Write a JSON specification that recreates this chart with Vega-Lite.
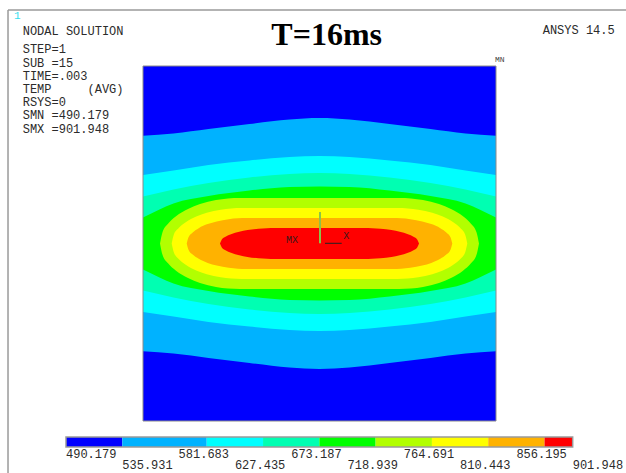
{
  "$schema": "https://vega.github.io/schema/vega-lite/v6.json",
  "width": 353,
  "height": 355,
  "autosize": {"type": "none"},
  "padding": {"left": 143, "top": 66, "right": 130, "bottom": 52},
  "background": "white",
  "config": {"view": {"stroke": null}, "axis": {"disable": true}},
  "datasets": {
    "contours": [
      {"level": 535.931, "x": -50, "upper": 30.37, "lower": -30.37},
      {"level": 535.931, "x": -41.36, "upper": 30.99, "lower": -30.99},
      {"level": 535.931, "x": -31.44, "upper": 32.25, "lower": -32.25},
      {"level": 535.931, "x": -19.83, "upper": 33.66, "lower": -33.66},
      {"level": 535.931, "x": -8.5, "upper": 34.93, "lower": -34.93},
      {"level": 535.931, "x": 0, "upper": 35.35, "lower": -35.35},
      {"level": 535.931, "x": 8.5, "upper": 34.93, "lower": -34.93},
      {"level": 535.931, "x": 19.83, "upper": 33.66, "lower": -33.66},
      {"level": 535.931, "x": 31.44, "upper": 32.25, "lower": -32.25},
      {"level": 535.931, "x": 41.36, "upper": 30.99, "lower": -30.99},
      {"level": 535.931, "x": 50, "upper": 30.37, "lower": -30.37},

      {"level": 581.683, "x": -50, "upper": 19.30, "lower": -19.30},
      {"level": 581.683, "x": -41.36, "upper": 20.56, "lower": -20.56},
      {"level": 581.683, "x": -31.44, "upper": 22.11, "lower": -22.11},
      {"level": 581.683, "x": -19.83, "upper": 23.38, "lower": -23.38},
      {"level": 581.683, "x": -8.5, "upper": 24.37, "lower": -24.37},
      {"level": 581.683, "x": 0, "upper": 24.65, "lower": -24.65},
      {"level": 581.683, "x": 8.5, "upper": 24.37, "lower": -24.37},
      {"level": 581.683, "x": 19.83, "upper": 23.38, "lower": -23.38},
      {"level": 581.683, "x": 31.44, "upper": 22.11, "lower": -22.11},
      {"level": 581.683, "x": 41.36, "upper": 20.56, "lower": -20.56},
      {"level": 581.683, "x": 50, "upper": 19.30, "lower": -19.30},

      {"level": 627.435, "x": -50, "upper": 13.24, "lower": -13.24},
      {"level": 627.435, "x": -41.36, "upper": 15.21, "lower": -15.21},
      {"level": 627.435, "x": -31.44, "upper": 17.04, "lower": -17.04},
      {"level": 627.435, "x": -19.83, "upper": 18.59, "lower": -18.59},
      {"level": 627.435, "x": -8.5, "upper": 19.58, "lower": -19.58},
      {"level": 627.435, "x": 0, "upper": 19.86, "lower": -19.86},
      {"level": 627.435, "x": 8.5, "upper": 19.58, "lower": -19.58},
      {"level": 627.435, "x": 19.83, "upper": 18.59, "lower": -18.59},
      {"level": 627.435, "x": 31.44, "upper": 17.04, "lower": -17.04},
      {"level": 627.435, "x": 41.36, "upper": 15.21, "lower": -15.21},
      {"level": 627.435, "x": 50, "upper": 13.24, "lower": -13.24},

      {"level": 673.187, "x": -50, "upper": 7.32, "lower": -7.32},
      {"level": 673.187, "x": -45.33, "upper": 9.58, "lower": -9.58},
      {"level": 673.187, "x": -41.36, "upper": 11.27, "lower": -11.27},
      {"level": 673.187, "x": -31.44, "upper": 13.38, "lower": -13.38},
      {"level": 673.187, "x": -19.83, "upper": 14.93, "lower": -14.93},
      {"level": 673.187, "x": -8.5, "upper": 15.92, "lower": -15.92},
      {"level": 673.187, "x": 0, "upper": 16.06, "lower": -16.06},
      {"level": 673.187, "x": 8.5, "upper": 15.92, "lower": -15.92},
      {"level": 673.187, "x": 19.83, "upper": 14.93, "lower": -14.93},
      {"level": 673.187, "x": 31.44, "upper": 13.38, "lower": -13.38},
      {"level": 673.187, "x": 41.36, "upper": 11.27, "lower": -11.27},
      {"level": 673.187, "x": 45.33, "upper": 9.58, "lower": -9.58},
      {"level": 673.187, "x": 50, "upper": 7.32, "lower": -7.32},

      {"level": 718.939, "x": -45.18, "upper": 0, "lower": 0},
      {"level": 718.939, "x": -44.50, "upper": 3.12, "lower": -3.12},
      {"level": 718.939, "x": -42.91, "upper": 5.59, "lower": -5.59},
      {"level": 718.939, "x": -40.65, "upper": 7.69, "lower": -7.69},
      {"level": 718.939, "x": -37.25, "upper": 9.74, "lower": -9.74},
      {"level": 718.939, "x": -33.85, "upper": 11.10, "lower": -11.10},
      {"level": 718.939, "x": -29.32, "upper": 12.23, "lower": -12.23},
      {"level": 718.939, "x": -25.92, "upper": 12.68, "lower": -12.68},
      {"level": 718.939, "x": -22.52, "upper": 12.82, "lower": -12.82},
      {"level": 718.939, "x": 0, "upper": 12.82, "lower": -12.82},
      {"level": 718.939, "x": 22.52, "upper": 12.82, "lower": -12.82},
      {"level": 718.939, "x": 25.92, "upper": 12.68, "lower": -12.68},
      {"level": 718.939, "x": 29.32, "upper": 12.23, "lower": -12.23},
      {"level": 718.939, "x": 33.85, "upper": 11.10, "lower": -11.10},
      {"level": 718.939, "x": 37.25, "upper": 9.74, "lower": -9.74},
      {"level": 718.939, "x": 40.65, "upper": 7.69, "lower": -7.69},
      {"level": 718.939, "x": 42.91, "upper": 5.59, "lower": -5.59},
      {"level": 718.939, "x": 44.50, "upper": 3.12, "lower": -3.12},
      {"level": 718.939, "x": 45.18, "upper": 0, "lower": 0},

      {"level": 764.691, "x": -41.87, "upper": 0, "lower": 0},
      {"level": 764.691, "x": -41.28, "upper": 2.43, "lower": -2.43},
      {"level": 764.691, "x": -39.89, "upper": 4.36, "lower": -4.36},
      {"level": 764.691, "x": -37.90, "upper": 6.00, "lower": -6.00},
      {"level": 764.691, "x": -34.93, "upper": 7.60, "lower": -7.60},
      {"level": 764.691, "x": -31.95, "upper": 8.66, "lower": -8.66},
      {"level": 764.691, "x": -27.99, "upper": 9.54, "lower": -9.54},
      {"level": 764.691, "x": -25.01, "upper": 9.89, "lower": -9.89},
      {"level": 764.691, "x": -22.04, "upper": 10.00, "lower": -10.00},
      {"level": 764.691, "x": 0, "upper": 10.00, "lower": -10.00},
      {"level": 764.691, "x": 22.04, "upper": 10.00, "lower": -10.00},
      {"level": 764.691, "x": 25.01, "upper": 9.89, "lower": -9.89},
      {"level": 764.691, "x": 27.99, "upper": 9.54, "lower": -9.54},
      {"level": 764.691, "x": 31.95, "upper": 8.66, "lower": -8.66},
      {"level": 764.691, "x": 34.93, "upper": 7.60, "lower": -7.60},
      {"level": 764.691, "x": 37.90, "upper": 6.00, "lower": -6.00},
      {"level": 764.691, "x": 39.89, "upper": 4.36, "lower": -4.36},
      {"level": 764.691, "x": 41.28, "upper": 2.43, "lower": -2.43},
      {"level": 764.691, "x": 41.87, "upper": 0, "lower": 0},

      {"level": 810.443, "x": -37.62, "upper": 0, "lower": 0},
      {"level": 810.443, "x": -37.11, "upper": 1.74, "lower": -1.74},
      {"level": 810.443, "x": -35.92, "upper": 3.13, "lower": -3.13},
      {"level": 810.443, "x": -34.22, "upper": 4.31, "lower": -4.31},
      {"level": 810.443, "x": -31.67, "upper": 5.46, "lower": -5.46},
      {"level": 810.443, "x": -29.12, "upper": 6.22, "lower": -6.22},
      {"level": 810.443, "x": -25.72, "upper": 6.85, "lower": -6.85},
      {"level": 810.443, "x": -23.17, "upper": 7.10, "lower": -7.10},
      {"level": 810.443, "x": -20.62, "upper": 7.18, "lower": -7.18},
      {"level": 810.443, "x": 0, "upper": 7.18, "lower": -7.18},
      {"level": 810.443, "x": 20.62, "upper": 7.18, "lower": -7.18},
      {"level": 810.443, "x": 23.17, "upper": 7.10, "lower": -7.10},
      {"level": 810.443, "x": 25.72, "upper": 6.85, "lower": -6.85},
      {"level": 810.443, "x": 29.12, "upper": 6.22, "lower": -6.22},
      {"level": 810.443, "x": 31.67, "upper": 5.46, "lower": -5.46},
      {"level": 810.443, "x": 34.22, "upper": 4.31, "lower": -4.31},
      {"level": 810.443, "x": 35.92, "upper": 3.13, "lower": -3.13},
      {"level": 810.443, "x": 37.11, "upper": 1.74, "lower": -1.74},
      {"level": 810.443, "x": 37.62, "upper": 0, "lower": 0},

      {"level": 856.195, "x": -28.19, "upper": 0, "lower": 0},
      {"level": 856.195, "x": -27.72, "upper": 1.06, "lower": -1.06},
      {"level": 856.195, "x": -26.63, "upper": 1.91, "lower": -1.91},
      {"level": 856.195, "x": -25.07, "upper": 2.62, "lower": -2.62},
      {"level": 856.195, "x": -22.74, "upper": 3.32, "lower": -3.32},
      {"level": 856.195, "x": -20.40, "upper": 3.78, "lower": -3.78},
      {"level": 856.195, "x": -17.28, "upper": 4.17, "lower": -4.17},
      {"level": 856.195, "x": -14.95, "upper": 4.32, "lower": -4.32},
      {"level": 856.195, "x": -12.61, "upper": 4.37, "lower": -4.37},
      {"level": 856.195, "x": 0, "upper": 4.37, "lower": -4.37},
      {"level": 856.195, "x": 12.61, "upper": 4.37, "lower": -4.37},
      {"level": 856.195, "x": 14.95, "upper": 4.32, "lower": -4.32},
      {"level": 856.195, "x": 17.28, "upper": 4.17, "lower": -4.17},
      {"level": 856.195, "x": 20.40, "upper": 3.78, "lower": -3.78},
      {"level": 856.195, "x": 22.74, "upper": 3.32, "lower": -3.32},
      {"level": 856.195, "x": 25.07, "upper": 2.62, "lower": -2.62},
      {"level": 856.195, "x": 26.63, "upper": 1.91, "lower": -1.91},
      {"level": 856.195, "x": 27.72, "upper": 1.06, "lower": -1.06},
      {"level": 856.195, "x": 28.19, "upper": 0, "lower": 0}
    ],
    "legendBands": [
      {"band": "490.179", "from": 490.179, "to": 535.931},
      {"band": "535.931", "from": 535.931, "to": 604.559},
      {"band": "581.683", "from": 604.559, "to": 650.311},
      {"band": "627.435", "from": 650.311, "to": 696.063},
      {"band": "673.187", "from": 696.063, "to": 741.815},
      {"band": "718.939", "from": 741.815, "to": 787.567},
      {"band": "764.691", "from": 787.567, "to": 833.319},
      {"band": "810.443", "from": 833.319, "to": 879.071},
      {"band": "856.195", "from": 879.071, "to": 901.948}
    ],
    "legendLabels": [
      {"value": 490.179, "label": "490.179", "tier": "upper"},
      {"value": 535.931, "label": "535.931", "tier": "lower"},
      {"value": 581.683, "label": "581.683", "tier": "upper"},
      {"value": 627.435, "label": "627.435", "tier": "lower"},
      {"value": 673.187, "label": "673.187", "tier": "upper"},
      {"value": 718.939, "label": "718.939", "tier": "lower"},
      {"value": 764.691, "label": "764.691", "tier": "upper"},
      {"value": 810.443, "label": "810.443", "tier": "lower"},
      {"value": 856.195, "label": "856.195", "tier": "upper"},
      {"value": 901.948, "label": "901.948", "tier": "lower"}
    ]
  },
  "layer": [
    {
      "layer": [
        {
          "data": {"values": [{}]},
          "mark": {"type": "rect", "color": "#0000FF"},
          "encoding": {
            "x": {"datum": -50, "type": "quantitative", "scale": {"domain": [-50, 50], "nice": false, "zero": false}},
            "x2": {"datum": 50},
            "y": {"datum": -50, "type": "quantitative", "scale": {"domain": [-50, 50], "nice": false, "zero": false}},
            "y2": {"datum": 50}
          }
        },
        {
          "data": {"name": "contours"},
          "transform": [{"filter": "datum.level == 535.931"}],
          "mark": {"type": "area", "interpolate": "monotone", "color": "#00B2FF"},
          "encoding": {"x": {"field": "x", "type": "quantitative"}, "y": {"field": "upper", "type": "quantitative"}, "y2": {"field": "lower"}}
        },
        {
          "data": {"name": "contours"},
          "transform": [{"filter": "datum.level == 581.683"}],
          "mark": {"type": "area", "interpolate": "monotone", "color": "#00FFFF"},
          "encoding": {"x": {"field": "x", "type": "quantitative"}, "y": {"field": "upper", "type": "quantitative"}, "y2": {"field": "lower"}}
        },
        {
          "data": {"name": "contours"},
          "transform": [{"filter": "datum.level == 627.435"}],
          "mark": {"type": "area", "interpolate": "monotone", "color": "#00FFB2"},
          "encoding": {"x": {"field": "x", "type": "quantitative"}, "y": {"field": "upper", "type": "quantitative"}, "y2": {"field": "lower"}}
        },
        {
          "data": {"name": "contours"},
          "transform": [{"filter": "datum.level == 673.187"}],
          "mark": {"type": "area", "interpolate": "monotone", "color": "#00FF00"},
          "encoding": {"x": {"field": "x", "type": "quantitative"}, "y": {"field": "upper", "type": "quantitative"}, "y2": {"field": "lower"}}
        },
        {
          "data": {"name": "contours"},
          "transform": [{"filter": "datum.level == 718.939"}],
          "mark": {"type": "area", "interpolate": "monotone", "color": "#B2FF00"},
          "encoding": {"x": {"field": "x", "type": "quantitative"}, "y": {"field": "upper", "type": "quantitative"}, "y2": {"field": "lower"}}
        },
        {
          "data": {"name": "contours"},
          "transform": [{"filter": "datum.level == 764.691"}],
          "mark": {"type": "area", "interpolate": "monotone", "color": "#FFFF00"},
          "encoding": {"x": {"field": "x", "type": "quantitative"}, "y": {"field": "upper", "type": "quantitative"}, "y2": {"field": "lower"}}
        },
        {
          "data": {"name": "contours"},
          "transform": [{"filter": "datum.level == 810.443"}],
          "mark": {"type": "area", "interpolate": "monotone", "color": "#FFB200"},
          "encoding": {"x": {"field": "x", "type": "quantitative"}, "y": {"field": "upper", "type": "quantitative"}, "y2": {"field": "lower"}}
        },
        {
          "data": {"name": "contours"},
          "transform": [{"filter": "datum.level == 856.195"}],
          "mark": {"type": "area", "interpolate": "monotone", "color": "#FF0000"},
          "encoding": {"x": {"field": "x", "type": "quantitative"}, "y": {"field": "upper", "type": "quantitative"}, "y2": {"field": "lower"}}
        },
        {
          "data": {"values": [{}]},
          "mark": {"type": "rect", "filled": false, "color": "#8a8a8a", "strokeWidth": 1},
          "encoding": {"x": {"datum": -50}, "x2": {"datum": 50}, "y": {"datum": -50}, "y2": {"datum": 50}}
        },
        {
          "data": {"values": [{}]},
          "mark": {"type": "rule", "color": "#9a9a9a", "strokeWidth": 1.5},
          "encoding": {"x": {"datum": -88.24}, "x2": {"datum": 86.83}, "y": {"datum": 65.77}}
        },
        {
          "data": {"values": [{}]},
          "mark": {"type": "rule", "color": "#9a9a9a", "strokeWidth": 1.5},
          "encoding": {"x": {"datum": -88.24}, "y": {"datum": 65.77}, "y2": {"datum": -64.65}}
        },
        {
          "data": {"values": [{}]},
          "mark": {"type": "rule", "color": "#8BC34A", "strokeWidth": 2},
          "encoding": {"x": {"datum": 0.14}, "y": {"datum": 0.06}, "y2": {"datum": 8.87}}
        },
        {
          "data": {"values": [{}]},
          "mark": {"type": "rule", "color": "#222222", "strokeWidth": 1},
          "encoding": {"x": {"datum": 1.56}, "x2": {"datum": 6.29}, "y": {"datum": 0.06}}
        },
        {
          "data": {"values": [{}]},
          "mark": {"type": "text", "text": "1", "font": "Liberation Mono", "fontSize": 11, "align": "left", "baseline": "middle", "color": "#33DDEE"},
          "encoding": {"x": {"datum": -86.54}, "y": {"datum": 64.17}}
        },
        {
          "data": {"values": [{}]},
          "mark": {"type": "text", "text": "NODAL SOLUTION", "font": "Liberation Mono", "fontSize": 12, "align": "left", "baseline": "middle", "color": "#2b2b2b"},
          "encoding": {"x": {"datum": -84.08}, "y": {"datum": 59.94}}
        },
        {
          "data": {"values": [{}]},
          "mark": {"type": "text", "text": "STEP=1\nSUB\u00a0=15\nTIME=.003\nTEMP\u00a0\u00a0\u00a0\u00a0\u00a0(AVG)\nRSYS=0\nSMN\u00a0=490.179\nSMX\u00a0=901.948", "lineBreak": "\n", "lineHeight": 13.2, "font": "Liberation Mono", "fontSize": 12, "align": "left", "baseline": "top", "color": "#2b2b2b"},
          "encoding": {"x": {"datum": -84.08}, "y": {"datum": 56.06}}
        },
        {
          "data": {"values": [{}]},
          "mark": {"type": "text", "text": "T=16ms", "font": "Liberation Serif", "fontWeight": "bold", "fontSize": 32, "align": "center", "baseline": "middle", "color": "#000000"},
          "encoding": {"x": {"datum": 2.04}, "y": {"datum": 58.73}}
        },
        {
          "data": {"values": [{}]},
          "mark": {"type": "text", "text": "ANSYS 14.5", "font": "Liberation Mono", "fontSize": 12, "align": "left", "baseline": "middle", "color": "#2b2b2b"},
          "encoding": {"x": {"datum": 63.23}, "y": {"datum": 60.14}}
        },
        {
          "data": {"values": [{}]},
          "mark": {"type": "text", "text": "MN", "font": "Liberation Mono", "fontSize": 8, "align": "left", "baseline": "middle", "color": "#444444"},
          "encoding": {"x": {"datum": 49.72}, "y": {"datum": 51.69}}
        },
        {
          "data": {"values": [{}]},
          "mark": {"type": "text", "text": "MX", "font": "Liberation Mono", "fontSize": 10, "align": "center", "baseline": "middle", "color": "#3a1a1a"},
          "encoding": {"x": {"datum": -7.79}, "y": {"datum": 0.99}}
        },
        {
          "data": {"values": [{}]},
          "mark": {"type": "text", "text": "X", "font": "Liberation Mono", "fontSize": 10, "align": "center", "baseline": "middle", "color": "#3a1a1a"},
          "encoding": {"x": {"datum": 7.59}, "y": {"datum": 2.11}}
        }
      ]
    },
    {
      "layer": [
        {
          "data": {"name": "legendBands"},
          "mark": {"type": "rect"},
          "encoding": {
            "x": {"field": "from", "type": "quantitative", "scale": {"domain": [552.76, 839.63], "nice": false, "zero": false}},
            "x2": {"field": "to"},
            "y": {"datum": -54.51, "type": "quantitative", "scale": {"domain": [-50, 50], "nice": false, "zero": false}},
            "y2": {"datum": -57.32},
            "color": {"field": "band", "type": "nominal", "legend": null, "scale": {"domain": ["490.179", "535.931", "581.683", "627.435", "673.187", "718.939", "764.691", "810.443", "856.195"], "range": ["#0000FF", "#00B2FF", "#00FFFF", "#00FFB2", "#00FF00", "#B2FF00", "#FFFF00", "#FFB200", "#FF0000"]}}
          }
        },
        {
          "data": {"values": [{}]},
          "mark": {"type": "rect", "filled": false, "color": "#9a9a9a", "strokeWidth": 1.5},
          "encoding": {"x": {"datum": 490.179}, "x2": {"datum": 901.948}, "y": {"datum": -54.51}, "y2": {"datum": -57.32}}
        },
        {
          "data": {"name": "legendLabels"},
          "transform": [{"filter": "datum.tier == 'upper'"}],
          "mark": {"type": "text", "font": "Liberation Mono", "fontSize": 12, "align": "left", "baseline": "middle", "color": "#2b2b2b"},
          "encoding": {"x": {"field": "value", "type": "quantitative"}, "y": {"datum": -59.3}, "text": {"field": "label"}}
        },
        {
          "data": {"name": "legendLabels"},
          "transform": [{"filter": "datum.tier == 'lower'"}],
          "mark": {"type": "text", "font": "Liberation Mono", "fontSize": 12, "align": "left", "baseline": "middle", "color": "#2b2b2b"},
          "encoding": {"x": {"field": "value", "type": "quantitative"}, "y": {"datum": -62.3}, "text": {"field": "label"}}
        }
      ]
    }
  ],
  "resolve": {"scale": {"x": "independent"}}
}
